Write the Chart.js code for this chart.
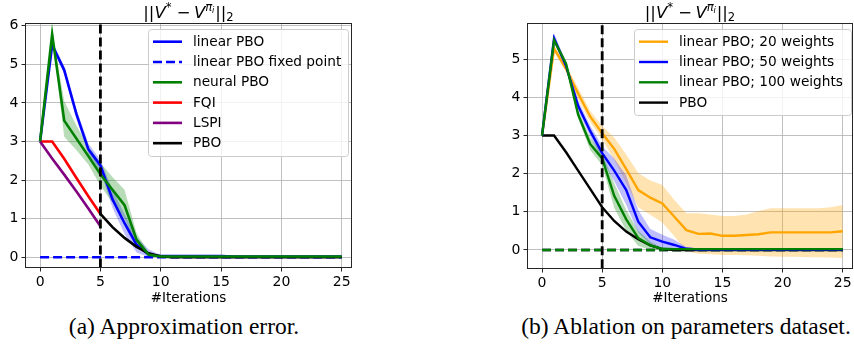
<!DOCTYPE html>
<html><head><meta charset="utf-8">
<script src="https://cdn.jsdelivr.net/npm/chart.js@4.4.0/dist/chart.umd.min.js"></script>
<style>
html,body{margin:0;padding:0;background:#fff;width:854px;height:347px;overflow:hidden;}
.wrap{position:absolute;top:0;width:427px;height:305px;}
.cap{position:absolute;top:315px;font-family:"Liberation Serif","Times New Roman",serif;font-size:23.5px;line-height:23.5px;white-space:nowrap;transform:translateX(-50%);color:#000;}
</style></head><body>
<div class="wrap" style="left:0"><canvas id="c1" width="427" height="305"></canvas></div>
<div class="wrap" style="left:427px"><canvas id="c2" width="427" height="305"></canvas></div>
<div class="cap" style="left:184px">(a) Approximation error.</div>
<div class="cap" style="left:686px">(b) Ablation on parameters dataset.</div>
<script>
// ---------- data ----------
const iterations = [0,1,2,3,4,5,6,7,8,9,10,11,12,13,14,15,16,17,18,19,20,21,22,23,24,25];
const xTicks = [0,5,10,15,20,25];
const yTicksA = [0,1,2,3,4,5,6];
const yTicksB = [0,1,2,3,4,5];
const switchIteration = 5;

// (a) Approximation error
const linearPBO      = [3,5.5,4.85,3.72,2.8,2.38,1.5,0.88,0.32,0.07,0.03,0.03,0.03,0.03,0.03,0.03,0.02,0.02,0.02,0.02,0.02,0.02,0.02,0.02,0.02,0.02];
const linearPBOLow   = [3,5.45,4.75,3.6,2.68,2.22,1.28,0.6,0.12,0.0,0.01,0.01,0.01,0.01,0.01,0.01,0.01,0.01,0.01,0.01,0.01,0.01,0.01,0.01,0.01,0.01];
const linearPBOHigh  = [3,5.6,4.95,3.85,2.95,2.52,1.75,1.12,0.52,0.2,0.06,0.06,0.05,0.05,0.04,0.04,0.03,0.03,0.03,0.03,0.03,0.03,0.03,0.03,0.03,0.03];
const linearPBOFixed = [0,0,0,0,0,0,0,0,0,0,0,0,0,0,0,0,0,0,0,0,0,0,0,0,0,0];
const neuralPBO      = [3,5.78,3.54,3.08,2.62,2.15,1.75,1.35,0.45,0.06,0.02,0.02,0.02,0.02,0.02,0.02,0.02,0.02,0.02,0.02,0.02,0.02,0.02,0.02,0.02,0.02];
const neuralPBOLow   = [3,5.72,3.12,2.78,2.4,1.85,1.42,1.0,0.28,0.02,0.01,0.01,0.01,0.01,0.01,0.01,0.01,0.01,0.01,0.01,0.01,0.01,0.01,0.01,0.01,0.01];
const neuralPBOHigh  = [3,5.84,4.05,3.42,2.87,2.45,2.08,1.75,0.62,0.12,0.03,0.03,0.03,0.03,0.03,0.03,0.03,0.03,0.03,0.03,0.03,0.03,0.03,0.03,0.03,0.03];
const fqi            = [3,3,2.55,2.06,1.58,1.12];
const lspi           = [3,2.56,2.14,1.71,1.26,0.8];
const pboA           = [1.12,0.78,0.5,0.27,0.1,0.02,0,0,0,0,0,0,0,0,0,0,0,0,0,0,0]; // from iteration 5

// (b) Ablation on parameters dataset
const pbo20      = [3,5.28,4.75,4.1,3.5,3.06,2.65,2.12,1.57,1.37,1.22,0.87,0.52,0.42,0.43,0.37,0.37,0.39,0.41,0.46,0.46,0.46,0.46,0.46,0.46,0.49];
const pbo20Low   = [3,5.2,4.65,3.95,3.35,2.9,2.35,1.75,1.12,0.92,0.72,0.36,-0.04,-0.1,-0.11,-0.13,-0.13,-0.14,-0.15,-0.17,-0.18,-0.18,-0.19,-0.19,-0.2,-0.21];
const pbo20High  = [3,5.36,4.85,4.25,3.65,3.25,2.95,2.5,2.02,1.82,1.7,1.31,0.96,0.96,0.93,0.89,0.89,0.93,1.02,1.09,1.09,1.09,1.09,1.09,1.12,1.18];
const pbo50      = [3,5.55,4.82,3.78,3.12,2.54,2.08,1.57,0.74,0.33,0.22,0.13,0.03,0.01,0.01,0.01,0.01,0.01,0.01,0.01,0.01,0.01,0.01,0.01,0.01,0.01];
const pbo50Low   = [3,5.45,4.72,3.65,2.98,2.36,1.8,1.18,0.45,0.14,0.05,0.02,0,0,0,0,0,0,0,0,0,0,0,0,0,0];
const pbo50High  = [3,5.68,4.92,3.92,3.26,2.72,2.4,1.95,1.05,0.55,0.4,0.27,0.08,0.04,0.03,0.03,0.03,0.03,0.03,0.03,0.03,0.03,0.03,0.03,0.03,0.03];
const pbo100     = [3,5.5,4.88,3.55,2.78,2.4,1.42,0.8,0.31,0.12,0.03,0.02,0.02,0.02,0.02,0.02,0.02,0.02,0.02,0.02,0.02,0.02,0.02,0.02,0.02,0.02];
const pbo100Low  = [3,5.42,4.8,3.45,2.62,2.22,1.1,0.5,0.1,0,0,0,0,0,0,0,0,0,0,0,0,0,0,0,0,0];
const pbo100High = [3,5.58,4.96,3.65,2.95,2.55,1.75,1.05,0.5,0.22,0.05,0.04,0.04,0.04,0.04,0.04,0.04,0.04,0.04,0.04,0.04,0.04,0.04,0.04,0.04,0.04];
const pboB       = [3,3,2.56,2.08,1.6,1.12,0.76,0.48,0.28,0.12,0.02,0,0,0,0,0,0,0,0,0,0,0,0,0,0,0];
const fixedB     = [0,0,0,0,0,0,0,0,0,0,0,0,0,0,0,0,0,0,0,0,0,0,0,0,0,0];

// ---------- helpers ----------
const BLUE='#0000ff', GREEN='#008000', RED='#ff0000', PURPLE='#800080', BLACK='#000000', ORANGE='#ffa500';
const FONT = '"DejaVu Sans", sans-serif';

function pts(vals, start){ start = start||0; return vals.map((v,i)=>({x: iterations[start+i], y: v})); }
function line(vals, color, width, order, dash, start){
  return {data: pts(vals, start), borderColor: color, borderWidth: width, borderDash: dash||[],
          pointRadius: 0, tension: 0, fill: false, order: order};
}
function band(low, high, rgba, order){
  return [
    {data: pts(low), borderWidth: 0, pointRadius: 0, fill: false, order: order, borderColor: 'rgba(0,0,0,0)'},
    {data: pts(high), borderWidth: 0, pointRadius: 0, fill: '-1', backgroundColor: rgba, order: order, borderColor: 'rgba(0,0,0,0)'}
  ];
}
function vline(yMin, yMax){
  return {data: [{x: switchIteration, y: yMin - 1}, {x: switchIteration, y: yMax + 1}], borderColor: BLACK,
          borderWidth: 2.8, borderDash: [9, 4], pointRadius: 0, fill: false, order: 0};
}

function drawMathTitle(ctx, cx, baseline, size){
  const pieces = [
    {t:'||', s:1, dy:0, it:false},
    {t:'V', s:1, dy:0, it:true},
    {t:'*', s:0.7, dy:-0.42, it:false, after:0.12},
    {t:'\u2212', s:1, dy:0, it:false, before:0.2, after:0.2},
    {t:'V', s:1, dy:0, it:true},
    {t:'\u03c0', s:0.7, dy:-0.45, it:true},
    {t:'i', s:0.5, dy:-0.32, it:true, after:0.05},
    {t:'||', s:1, dy:0, it:false},
    {t:'2', s:0.7, dy:0.2, it:false}
  ];
  let total = 0;
  pieces.forEach(p=>{
    ctx.font = (p.it?'oblique ':'') + (size*p.s) + 'px ' + FONT;
    p.w = ctx.measureText(p.t).width;
    total += p.w + ((p.before||0)+(p.after||0))*size;
  });
  let x = cx - total/2;
  ctx.fillStyle = '#000'; ctx.textBaseline = 'alphabetic'; ctx.textAlign = 'left';
  pieces.forEach(p=>{
    x += (p.before||0)*size;
    ctx.font = (p.it?'oblique ':'') + (size*p.s) + 'px ' + FONT;
    ctx.fillText(p.t, x, baseline + p.dy*size);
    x += p.w + (p.after||0)*size;
  });
}

const decor = {
  id: 'decor',
  afterDraw(chart, args, o){
    const ctx = chart.ctx, a = chart.chartArea;
    ctx.save();
    // frame
    ctx.strokeStyle = '#262626'; ctx.lineWidth = 1; ctx.setLineDash([]);
    ctx.strokeRect(Math.round(a.left)+0.5, Math.round(a.top)+0.5, Math.round(a.right-a.left)-1, Math.round(a.bottom-a.top)-1);
    // title
    drawMathTitle(ctx, (a.left+a.right)/2, o.titleBaseline, o.titleSize);
    // x label
    ctx.font = o.xlabelSize + 'px ' + FONT; ctx.fillStyle = '#000';
    ctx.textAlign = 'center'; ctx.textBaseline = 'middle';
    ctx.fillText(o.xlabel, (a.left+a.right)/2, o.xlabelY);
    // legend
    const L = o.legend;
    ctx.beginPath();
    if (ctx.roundRect) ctx.roundRect(L.x0+0.5, L.y0+0.5, L.x1-L.x0, L.y1-L.y0, 3); else ctx.rect(L.x0+0.5, L.y0+0.5, L.x1-L.x0, L.y1-L.y0);
    ctx.fillStyle = 'rgba(255,255,255,0.8)'; ctx.fill();
    ctx.strokeStyle = '#cccccc'; ctx.lineWidth = 1; ctx.stroke();
    ctx.font = L.size + 'px ' + FONT; ctx.textAlign = 'left'; ctx.textBaseline = 'middle';
    L.items.forEach((it, i)=>{
      const y = L.rowY0 + i*L.rowH;
      ctx.beginPath(); ctx.strokeStyle = it.color; ctx.lineWidth = it.width; ctx.setLineDash(it.dash||[]);
      ctx.moveTo(L.lineX0, y); ctx.lineTo(L.lineX1, y); ctx.stroke();
      ctx.setLineDash([]);
      ctx.fillStyle = '#000'; ctx.fillText(it.label, L.textX, y + 0.5);
    });
    ctx.restore();
  }
};

function build(id, cfg){
  const W = 427, H = 305, a = cfg.area;
  const tickFont = {family: FONT, size: 14};
  const grid = {color: '#b0b0b0', lineWidth: 0.8, tickColor: '#262626', tickLength: 3.5, tickWidth: 1, drawTicks: true};
  return new Chart(document.getElementById(id), {
    type: 'line',
    data: {datasets: cfg.datasets},
    options: {
      responsive: false, animation: false, events: [],
      layout: {padding: {left: 0, top: a.top, right: W - a.right, bottom: 0}},
      plugins: {legend: {display: false}, tooltip: {enabled: false}, decor: cfg.decor},
      scales: {
        x: {type: 'linear', min: cfg.xMin, max: cfg.xMax, grid: grid, border: {display: false},
            ticks: {font: tickFont, color: '#000', padding: 2, maxRotation: 0, autoSkip: false},
            afterBuildTicks: s => { s.ticks = xTicks.map(v => ({value: v})); },
            afterFit: s => { s.height = H - a.bottom; }},
        y: {type: 'linear', min: cfg.yMin, max: cfg.yMax, grid: grid, border: {display: false},
            ticks: {font: tickFont, color: '#000', padding: 3, autoSkip: false},
            afterBuildTicks: s => { s.ticks = cfg.yTicks.map(v => ({value: v})); },
            afterFit: s => { s.width = a.left; }}
      }
    },
    plugins: [decor]
  });
}

// ---------- chart (a) ----------
const yMinA = -0.28, yMaxA = 6.07;
build('c1', {
  area: {left: 25, right: 352, top: 23, bottom: 268},
  xMin: -1.25, xMax: 25.85, yMin: yMinA, yMax: yMaxA, yTicks: yTicksA,
  datasets: [
    ...band(linearPBOLow, linearPBOHigh, 'rgba(0,0,255,0.25)', 20),
    ...band(neuralPBOLow, neuralPBOHigh, 'rgba(0,128,0,0.28)', 19),
    line(linearPBO, BLUE, 2.6, 8),
    line(linearPBOFixed, BLUE, 2.6, 7, [9,4]),
    line(fqi, RED, 2.6, 6),
    line(lspi, PURPLE, 2.6, 5),
    line(pboA, BLACK, 2.6, 4, [], switchIteration),
    line(neuralPBO, GREEN, 2.6, 3),
    vline(yMinA, yMaxA)
  ],
  decor: {
    titleBaseline: 18, titleSize: 16.5, xlabel: '#Iterations', xlabelSize: 13.5, xlabelY: 298.5,
    legend: {x0: 148, y0: 29, x1: 348, y1: 156, lineX0: 153, lineX1: 182, textX: 193, rowY0: 41.7, rowH: 20.3, size: 13.7,
      items: [
        {label: 'linear PBO', color: BLUE, width: 2.6},
        {label: 'linear PBO fixed point', color: BLUE, width: 2.6, dash: [9,4]},
        {label: 'neural PBO', color: GREEN, width: 2.6},
        {label: 'FQI', color: RED, width: 2.6},
        {label: 'LSPI', color: PURPLE, width: 2.6},
        {label: 'PBO', color: BLACK, width: 2.6}
      ]}
  }
});

// ---------- chart (b) ----------
const yMinB = -0.5, yMaxB = 5.95;
build('c2', {
  area: {left: 100, right: 426, top: 23, bottom: 269},
  xMin: -1.25, xMax: 25.85, yMin: yMinB, yMax: yMaxB, yTicks: yTicksB,
  datasets: [
    ...band(pbo20Low, pbo20High, 'rgba(255,165,0,0.3)', 22),
    ...band(pbo50Low, pbo50High, 'rgba(0,0,255,0.25)', 21),
    ...band(pbo100Low, pbo100High, 'rgba(0,128,0,0.28)', 20),
    line(fixedB, ORANGE, 2.4, 9, [9,4]),
    line(fixedB, BLUE, 2.4, 8, [9,4]),
    line(fixedB, GREEN, 2.4, 7, [9,4]),
    line(pbo20, ORANGE, 2.4, 6),
    line(pboB, BLACK, 2.4, 5),
    line(pbo50, BLUE, 2.4, 4),
    line(pbo100, GREEN, 2.4, 3),
    vline(yMinB, yMaxB)
  ],
  decor: {
    titleBaseline: 18, titleSize: 16.5, xlabel: '#Iterations', xlabelSize: 13.5, xlabelY: 298.5,
    legend: {x0: 207, y0: 29, x1: 424, y1: 115, lineX0: 212, lineX1: 241, textX: 252, rowY0: 41.7, rowH: 20.3, size: 13.7,
      items: [
        {label: 'linear PBO; 20 weights', color: ORANGE, width: 2.4},
        {label: 'linear PBO; 50 weights', color: BLUE, width: 2.4},
        {label: 'linear PBO; 100 weights', color: GREEN, width: 2.4},
        {label: 'PBO', color: BLACK, width: 2.4}
      ]}
  }
});
</script>
</body></html>
